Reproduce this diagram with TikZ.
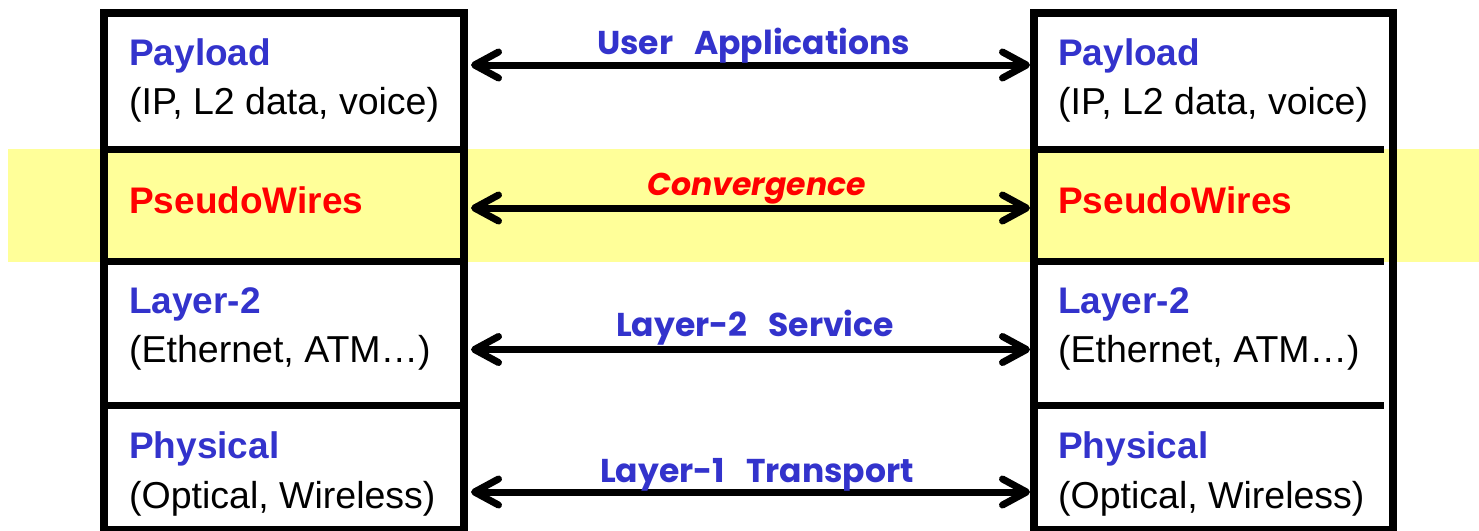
\documentclass[tikz,border=0pt]{standalone}
\usepackage{fontspec}
\setmainfont{Liberation Sans}
\newfontfamily\labelfont{Poppins}[WordSpace=3]
\usetikzlibrary{arrows.meta}
\definecolor{layerblue}{RGB}{51,51,204}
\definecolor{bandyellow}{RGB}{255,255,153}
\begin{document}
\begin{tikzpicture}[x=1pt,y=-1pt,
  frame/.style={line width=8pt, draw=black},
  divider/.style={line width=7pt, draw=black},
  title/.style={anchor=base west, inner sep=0pt, text=layerblue,
    font=\fontsize{37}{44}\selectfont\bfseries},
  pwtitle/.style={title, text=red},
  detail/.style={anchor=base west, inner sep=0pt,
    font=\fontsize{37.5}{44}\selectfont},
  peer/.style={line width=7pt,
    {Straight Barb[length=24pt, width=26pt, round]}-{Straight Barb[length=24pt, width=26pt, round]}},
  service/.style={anchor=base, inner sep=0pt, text=layerblue,
    font=\labelfont\bfseries\fontsize{33}{40}\selectfont},
  convergence/.style={service, text=red,
    font=\labelfont\bfseries\itshape\fontsize{31.5}{38}\selectfont}
]
\path[use as bounding box] (0,0) rectangle (1479,530);
\clip (0,0) rectangle (1479,530);

% highlighted pseudowire band
\fill[bandyellow] (8,149) rectangle (1479,262);

% left protocol stack
\draw[frame] (104,13) rectangle (464,530);
\foreach \y in {149.5,261.5,405.5} \draw[divider] (104,\y) -- (464,\y);
% right protocol stack
\draw[frame] (1034,13) rectangle (1393,530);
\foreach \y in {149.5,261.5,405.5} \draw[divider] (1034,\y) -- (1384,\y);

% layer labels
\foreach \x/\s in {129/L,1058/R}{
  \node[title]  (pay\s)   at (\x,65)  {Payload};
  \node[detail] (payd\s)  at (\x,114) {(IP, L2 data, voice)};
  \node[pwtitle] (pw\s)   at (\x,213) {PseudoWires};
  \node[title]  (ltwo\s)  at (\x,313) {Layer-2};
  \node[detail] (ltwod\s) at (\x,362) {(Ethernet, ATM…)};
  \node[title]  (phy\s)   at (\x,458) {Physical};
  \node[detail] (phyd\s)  at (\x,508) {(Optical, Wireless)};
}

% peer-to-peer relations
\coordinate (aL1) at (471,65);    \coordinate (aR1) at (1030,65);
\coordinate (aL2) at (471,208);   \coordinate (aR2) at (1030,208);
\coordinate (aL3) at (471,349.5); \coordinate (aR3) at (1030,349.5);
\coordinate (aL4) at (471,492);   \coordinate (aR4) at (1030,492);
\draw[peer] (aL1) -- (aR1);
\draw[peer] (aL2) -- (aR2);
\draw[peer] (aL3) -- (aR3);
\draw[peer] (aL4) -- (aR4);

\node[service]     (userapp) at (753.5,54) {User Applications};
\node[convergence] (conv)    at (756.5,195) {Convergence};
\node[service]     (ltwosvc) at (755,336) {Layer-2 Service};
\node[service]     (lonetr)  at (757,482) {Layer-1 Transport};
\end{tikzpicture}
\end{document}
